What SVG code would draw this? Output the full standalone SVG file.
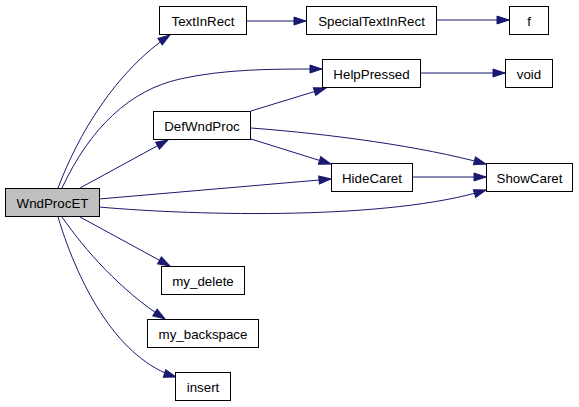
<svg xmlns="http://www.w3.org/2000/svg" width="579" height="407" viewBox="0 0 579 407">
<style>
.n rect{fill:#fff;stroke:#000;stroke-width:1}
.n.root rect{fill:#bfbfbf}
.n text{font-family:"Liberation Sans",Arial,sans-serif;font-size:13.33px;text-anchor:middle;fill:#000}
.e path{fill:none;stroke:#191970;stroke-width:1;marker-end:url(#a)}
</style>
<defs>
<marker id="a" markerWidth="14" markerHeight="11" refX="12.5" refY="4.5" orient="auto" markerUnits="userSpaceOnUse" overflow="visible">
<path d="M0.5,0.5 L12.5,4.5 L0.5,8.5 z" fill="#191970" stroke="#191970" stroke-width="1"/>
</marker>
</defs>
<rect width="579" height="407" fill="#fff"/>
<g id="edges" class="e">
<path d="M58,188 C78,135 115,72 170,35"/>
<path d="M62,188 C90,128 130,90 180,79 C225,69 270,69 322,69"/>
<path d="M80,188 L168,140"/>
<path d="M99,199 L331,179"/>
<path d="M99,207 C200,216 390,220 486,190"/>
<path d="M251,111 L326,88"/>
<path d="M251,139 L331,164"/>
<path d="M251,128 C330,134 420,146 486,164"/>
<path d="M413,177 L486,177"/>
<path d="M246,21 L306,21"/>
<path d="M437,20 L509,20"/>
<path d="M421,73 L505,73"/>
<path d="M80,217 L170,266"/>
<path d="M62,217 C85,250 120,290 165,319"/>
<path d="M58,217 C80,290 120,360 176,377"/>
</g>
<g id="WndProcET" class="n root"><rect x="5.5" y="188.5" width="94" height="28"/><text x="52.5" y="207.5">WndProcET</text></g>
<g id="TextInRect" class="n"><rect x="159.5" y="6.5" width="87" height="28"/><text x="203" y="25.5">TextInRect</text></g>
<g id="SpecialTextInRect" class="n"><rect x="306.5" y="6.5" width="130" height="28"/><text x="371.5" y="25.5">SpecialTextInRect</text></g>
<g id="f" class="n"><rect x="509.5" y="6.5" width="39" height="28"/><text x="529" y="25.5">f</text></g>
<g id="HelpPressed" class="n"><rect x="322.5" y="59.5" width="98" height="28"/><text x="371.5" y="78.5">HelpPressed</text></g>
<g id="void" class="n"><rect x="505.5" y="59.5" width="47" height="28"/><text x="529" y="78.5">void</text></g>
<g id="DefWndProc" class="n"><rect x="153.5" y="111.5" width="97" height="28"/><text x="202" y="130.5">DefWndProc</text></g>
<g id="HideCaret" class="n"><rect x="331.5" y="163.5" width="81" height="28"/><text x="372" y="182.5">HideCaret</text></g>
<g id="ShowCaret" class="n"><rect x="486.5" y="163.5" width="86" height="28"/><text x="529.5" y="182.5">ShowCaret</text></g>
<g id="my_delete" class="n"><rect x="161.5" y="266.5" width="83" height="28"/><text x="203" y="285.5">my_delete</text></g>
<g id="my_backspace" class="n"><rect x="147.5" y="319.5" width="111" height="28"/><text x="203" y="338.5">my_backspace</text></g>
<g id="insert" class="n"><rect x="175.5" y="372.5" width="55" height="28"/><text x="203" y="391.5">insert</text></g>
</svg>
